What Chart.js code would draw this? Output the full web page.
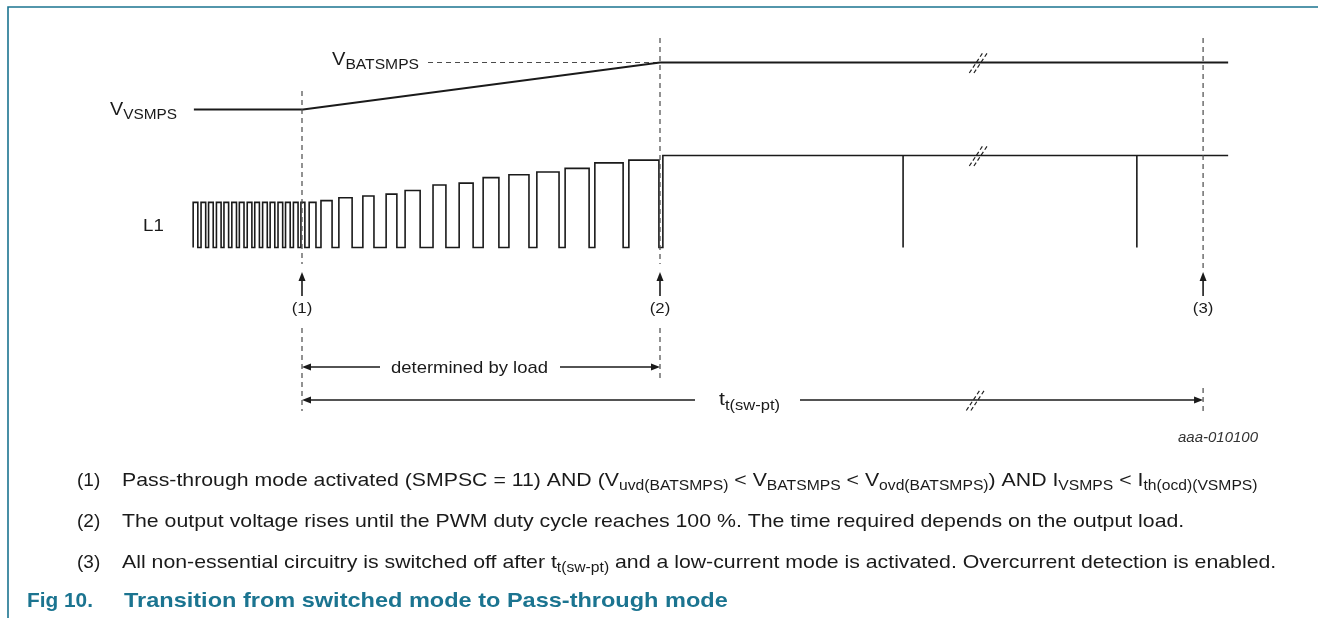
<!DOCTYPE html>
<html>
<head>
<meta charset="utf-8">
<script src="https://cdn.jsdelivr.net/npm/chart.js@4.4.1/dist/chart.umd.min.js"></script>
<style>
  html, body { margin: 0; padding: 0; background: #fff; }
  #wrap { width: 1318px; height: 618px; }
</style>
</head>
<body>
<div id="wrap"><canvas id="fig" width="1318" height="618"></canvas></div>
<script>
// time axis in arbitrary units: event (1) = 0, event (2) = 100
const markerTimes  = [0, 100, 251.7];
const markerLabels = ['(1)', '(2)', '(3)'];

// supply line, level 0 = V_VSMPS, level 1 = V_BATSMPS
const vTimes  = [-30.2, 0.3, 100, 258.7];
const vLevels = [0, 0, 1, 1];
const batRefTimes = [35.2, 100];

// L1 node: fast switching burst before (1)
const burstRise  = [-30.4, -28.2, -26.1, -23.9, -21.8, -19.6, -17.5, -15.3, -13.2, -11.0, -8.9, -6.7, -4.6, -2.4, -0.3];
const burstFall  = [-29.1, -26.9, -24.8, -22.6, -20.5, -18.3, -16.2, -14.0, -11.9, -9.7, -7.6, -5.4, -3.3, -1.1, 0.8];
const burstLevel = 0.49;

// widening PWM pulses between (1) and (2)
const rampRise  = [2.0, 5.3, 10.3, 17.0, 23.5, 28.8, 36.6, 43.9, 50.6, 57.8, 65.6, 73.5, 81.8, 91.3];
const rampFall  = [3.9, 8.4, 14.0, 20.1, 26.5, 33.0, 40.2, 47.8, 55.0, 63.4, 71.8, 80.2, 89.7, 99.7];
const rampLevel = [0.49, 0.51, 0.54, 0.56, 0.58, 0.62, 0.68, 0.70, 0.76, 0.79, 0.82, 0.86, 0.92, 0.95];

// 100 % duty after (2), with short dips
const fullOnTime = 100.8;
const l1EndTime  = 258.7;
const dropTimes  = [167.9, 233.2];
const breakTime  = 189;

const W = 1318, H = 618;
const INK = '#1a1a1a', DASH = '#4a4a4a', TEAL = '#1b7490';
const FONT = '"Liberation Sans", Arial, Helvetica, sans-serif';

function buildL1() {
  const pts = [];
  burstRise.forEach((r, i) => {
    pts.push({x: r, y: 0}, {x: r, y: burstLevel}, {x: burstFall[i], y: burstLevel}, {x: burstFall[i], y: 0});
  });
  rampRise.forEach((r, i) => {
    pts.push({x: r, y: 0}, {x: r, y: rampLevel[i]}, {x: rampFall[i], y: rampLevel[i]}, {x: rampFall[i], y: 0});
  });
  pts.push({x: fullOnTime, y: 0}, {x: fullOnTime, y: 1});
  dropTimes.forEach(d => pts.push({x: d, y: 1}, {x: d, y: 0}, {x: d, y: 1}));
  pts.push({x: l1EndTime, y: 1});
  return pts;
}

// scale ranges so that chosen pixels line up (chart area = whole canvas)
function xRange(px0, px100) {
  const u = (px100 - px0) / 100;
  return { min: -px0 / u, max: (W - px0) / u };
}
function yRange(pxLow, pxHigh) {
  const u = pxLow - pxHigh;
  const min = -(H - pxLow) / u;
  return { min, max: min + H / u };
}

/* ---------- drawing helpers ---------- */
function dashedV(ctx, x, y0, y1) {
  ctx.save();
  ctx.strokeStyle = DASH; ctx.lineWidth = 1.2; ctx.setLineDash([5, 4]);
  ctx.beginPath(); ctx.moveTo(x, y0); ctx.lineTo(x, y1); ctx.stroke();
  ctx.restore();
}
function line(ctx, x0, y0, x1, y1, w) {
  ctx.save();
  ctx.strokeStyle = INK; ctx.lineWidth = w || 1.3;
  ctx.beginPath(); ctx.moveTo(x0, y0); ctx.lineTo(x1, y1); ctx.stroke();
  ctx.restore();
}
function head(ctx, x, y, dir) {
  const L = 9, hw = 3.5;
  ctx.save();
  ctx.fillStyle = INK;
  ctx.beginPath();
  if (dir === 'up') { ctx.moveTo(x, y); ctx.lineTo(x - hw, y + L); ctx.lineTo(x + hw, y + L); }
  if (dir === 'left') { ctx.moveTo(x, y); ctx.lineTo(x + L, y - hw); ctx.lineTo(x + L, y + hw); }
  if (dir === 'right') { ctx.moveTo(x, y); ctx.lineTo(x - L, y - hw); ctx.lineTo(x - L, y + hw); }
  ctx.closePath(); ctx.fill();
  ctx.restore();
}
function breakMark(ctx, x, y) {
  ctx.save();
  ctx.strokeStyle = '#222'; ctx.lineWidth = 1.2; ctx.setLineDash([4, 2.5]);
  [-2.3, 2.3].forEach(o => {
    ctx.beginPath(); ctx.moveTo(x + o - 7, y + 10.5); ctx.lineTo(x + o + 7, y - 10.5); ctx.stroke();
  });
  ctx.restore();
}
// parts: plain strings, or [string] for subscript
function rich(ctx, parts, x, y, o = {}) {
  const base = o.size || 16;
  const pre = (o.style ? o.style + ' ' : '') + (o.weight ? o.weight + ' ' : '');
  let w = 0;
  const segs = parts.map(p => {
    const sub = Array.isArray(p);
    const text = sub ? p[0] : p;
    const size = sub ? (o.subSize || Math.round(base * 0.76)) : base;
    ctx.font = pre + size + 'px ' + FONT;
    const m = ctx.measureText(text).width;
    w += m;
    return { text, size, dy: sub ? (o.subDy != null ? o.subDy : base * 0.27) : 0, m };
  });
  const sx = o.width ? o.width / w : (o.stretch || 1);
  const x0 = o.align === 'center' ? x - w * sx / 2 : x;
  ctx.save();
  ctx.fillStyle = o.color || INK;
  ctx.textBaseline = 'alphabetic';
  ctx.translate(x0, y); ctx.scale(sx, 1);
  let cx = 0;
  segs.forEach(s => { ctx.font = pre + s.size + 'px ' + FONT; ctx.fillText(s.text, cx, s.dy); cx += s.m; });
  ctx.restore();
}

const decor = {
  id: 'timingDecor',
  afterDraw(chart) {
    const ctx = chart.ctx;
    const xs = chart.scales.x;
    const px = t => xs.getPixelForValue(t);
    const m1 = px(markerTimes[0]), m2 = px(markerTimes[1]), m3 = px(markerTimes[2]);
    const yTop = chart.scales.yV.getPixelForValue(1);
    const yHigh = chart.scales.yL.getPixelForValue(1);
    const bx = px(breakTime);

    // frame
    ctx.save();
    ctx.strokeStyle = TEAL; ctx.lineWidth = 1.6;
    ctx.beginPath(); ctx.moveTo(8, H); ctx.lineTo(8, 7); ctx.lineTo(W, 7); ctx.stroke();
    ctx.restore();

    // signal names
    rich(ctx, ['V', ['VSMPS']], 110, 114.5, { size: 18, subSize: 14, subDy: 4, width: 67 });
    rich(ctx, ['V', ['BATSMPS']], 332, 64.5, { size: 18, subSize: 14, subDy: 4, width: 87 });
    rich(ctx, ['L1'], 143, 231, { size: 17, stretch: 1.1 });

    // event markers
    dashedV(ctx, m1, 91, 264);
    dashedV(ctx, m2, 38, 264);
    dashedV(ctx, m3, 38, 268);
    dashedV(ctx, m1, 328, 411);
    dashedV(ctx, m2, 328, 379);
    dashedV(ctx, m3, 388, 411);
    [m1, m2, m3].forEach((x, i) => {
      line(ctx, x, 296, x, 280, 1.6);
      head(ctx, x, 272, 'up');
      rich(ctx, [markerLabels[i]], x, 313, { size: 15, stretch: 1.12, align: 'center' });
    });

    // break marks
    breakMark(ctx, bx, yTop);
    breakMark(ctx, bx, yHigh);
    breakMark(ctx, bx - 3, 400);

    // "determined by load"
    line(ctx, m1 + 4, 367, 380, 367);
    line(ctx, 560, 367, m2 - 4, 367);
    head(ctx, m1, 367, 'left');
    head(ctx, m2, 367, 'right');
    rich(ctx, ['determined by load'], 391, 373, { size: 17, width: 157 });

    // t_t(sw-pt)
    line(ctx, m1 + 4, 400, 695, 400);
    line(ctx, 800, 400, m3 - 4, 400);
    head(ctx, m1, 400, 'left');
    head(ctx, m3, 400, 'right');
    rich(ctx, ['t', ['t(sw-pt)']], 719, 405, { size: 18, subSize: 14, subDy: 5, width: 61 });

    rich(ctx, ['aaa-010100'], 1178, 442, { size: 14, style: 'italic', color: '#333', width: 80 });

    // notes
    const nx = 77, tx = 122, fs = 19, fss = 14, st = 1.12;
    const noteY = [486, 527, 568];
    rich(ctx, ['(1)'], nx, noteY[0], { size: fs, stretch: 1.0 });
    rich(ctx, ['Pass-through mode activated (SMPSC = 11) AND (V', ['uvd(BATSMPS)'], ' < V', ['BATSMPS'],
               ' < V', ['ovd(BATSMPS)'], ') AND I', ['VSMPS'], ' < I', ['th(ocd)(VSMPS)']],
         tx, noteY[0], { size: fs, subSize: fss, subDy: 4, stretch: st });
    rich(ctx, ['(2)'], nx, noteY[1], { size: fs, stretch: 1.0 });
    rich(ctx, ['The output voltage rises until the PWM duty cycle reaches 100 %. The time required depends on the output load.'],
         tx, noteY[1], { size: fs, stretch: st });
    rich(ctx, ['(3)'], nx, noteY[2], { size: fs, stretch: 1.0 });
    rich(ctx, ['All non-essential circuitry is switched off after t', ['t(sw-pt)'],
               ' and a low-current mode is activated. Overcurrent detection is enabled.'],
         tx, noteY[2], { size: fs, subSize: fss, subDy: 4, stretch: st });

    // caption
    rich(ctx, ['Fig 10.'], 27, 607, { size: 21, weight: 'bold', color: TEAL, width: 66 });
    rich(ctx, ['Transition from switched mode to Pass-through mode'], 124, 607,
         { size: 21, weight: 'bold', color: TEAL, stretch: 1.12 });
  }
};

const xr = xRange(302, 660);
const yv = yRange(109.5, 62.5);
const yl = yRange(247.5, 155.5);

new Chart(document.getElementById('fig').getContext('2d'), {
  type: 'line',
  data: {
    datasets: [
      { data: vTimes.map((t, i) => ({ x: t, y: vLevels[i] })), yAxisID: 'yV', borderColor: INK, borderWidth: 1.8 },
      { data: batRefTimes.map(t => ({ x: t, y: 1 })), yAxisID: 'yV', borderColor: DASH, borderWidth: 1.2, borderDash: [5, 4] },
      { data: buildL1(), yAxisID: 'yL', borderColor: INK, borderWidth: 1.6 }
    ]
  },
  options: {
    responsive: false,
    animation: false,
    layout: { padding: 0 },
    elements: { point: { radius: 0 }, line: { tension: 0, fill: false } },
    plugins: { legend: { display: false }, tooltip: { enabled: false } },
    scales: {
      x:  { type: 'linear', display: false, min: xr.min, max: xr.max },
      yV: { type: 'linear', display: false, min: yv.min, max: yv.max },
      yL: { type: 'linear', display: false, min: yl.min, max: yl.max }
    }
  },
  plugins: [decor]
});
</script>
</body>
</html>
